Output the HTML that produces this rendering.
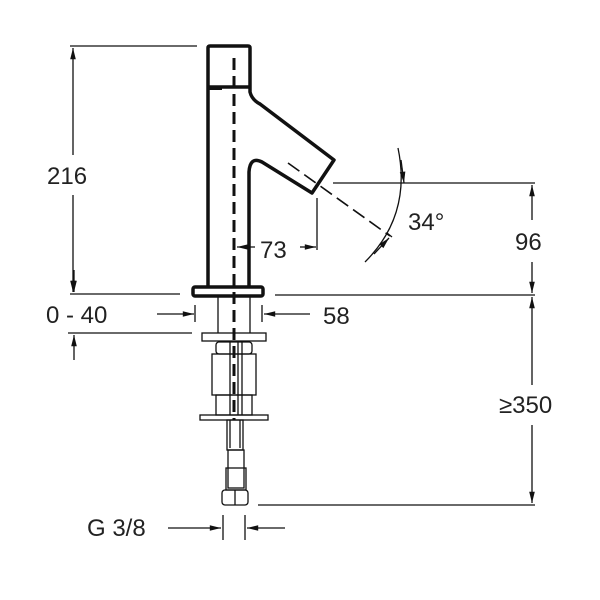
<!DOCTYPE html>
<html><head><style>body{margin:0;background:#fff}svg{display:block}text{font-family:"Liberation Sans",sans-serif;fill:#222;font-size:24px}</style></head>
<body><svg width="600" height="600" viewBox="0 0 600 600" xmlns="http://www.w3.org/2000/svg">
<defs><marker id="a" viewBox="0 0 14 10" refX="14" refY="5" markerWidth="14" markerHeight="8" orient="auto-start-reverse" markerUnits="userSpaceOnUse"><path d="M0,1.5L14,5L0,8.5z" fill="#111"/></marker></defs>
<g stroke="#111" fill="none" stroke-width="1.3">
<line x1="70" y1="46" x2="197" y2="46"/><line x1="70" y1="294" x2="180" y2="294"/>
<line x1="73" y1="48" x2="73" y2="155" marker-start="url(#a)"/><line x1="73" y1="195" x2="73" y2="292" marker-end="url(#a)"/>
<line x1="68" y1="333" x2="192" y2="333"/>
<line x1="74" y1="270" x2="74" y2="292" marker-end="url(#a)"/>
<line x1="74" y1="360" x2="74" y2="335" marker-end="url(#a)"/>
<line x1="157" y1="314" x2="194" y2="314" marker-end="url(#a)"/>
<line x1="310" y1="314" x2="264" y2="314" marker-end="url(#a)"/>
<line x1="195" y1="305" x2="195" y2="322"/><line x1="262" y1="305" x2="262" y2="322"/>
<line x1="218" y1="297" x2="218" y2="333"/><line x1="250" y1="297" x2="250" y2="333"/>
<line x1="333" y1="183" x2="535" y2="183"/><line x1="275" y1="295" x2="535" y2="295"/><line x1="258" y1="505" x2="535" y2="505"/>
<line x1="532" y1="185" x2="532" y2="220" marker-start="url(#a)"/><line x1="532" y1="262" x2="532" y2="293" marker-end="url(#a)"/>
<line x1="532" y1="297" x2="532" y2="385" marker-start="url(#a)"/><line x1="532" y1="425" x2="532" y2="503" marker-end="url(#a)"/>
<line x1="317" y1="198" x2="317" y2="250"/>
<line x1="255" y1="247" x2="237" y2="247" marker-end="url(#a)"/><line x1="300" y1="247" x2="316" y2="247" marker-end="url(#a)"/>
<path d="M398,148 Q412,215 365,262"/>
<path d="M401,160 L404,183" marker-end="url(#a)"/>
<path d="M374,254 L389,238" marker-end="url(#a)"/>
<line x1="387" y1="233" x2="392" y2="237"/>
<g stroke-width="3.5" stroke-linejoin="round">
<path d="M208,287 L208,48 Q208,46 210,46 L248,46 Q250,46 250,48 L250,92 Q252,100 260,104 L334,160 L312,193 L262,162 Q250,156 249,172 L249,287"/>
<line x1="208" y1="87" x2="250" y2="87"/>
<rect x="193" y="287" width="70" height="9" rx="2"/>
</g>
<line x1="208" y1="88" x2="222" y2="88" stroke-width="4"/>
<line x1="234" y1="58" x2="234" y2="420" stroke-width="3" stroke-dasharray="12,6"/>
<line x1="288" y1="163" x2="390" y2="236" stroke-width="1.6" stroke-dasharray="14,6"/>
<rect x="202" y="333" width="64" height="8"/>
<rect x="216" y="342" width="36" height="12" rx="3"/>
<rect x="212" y="354" width="44" height="41"/>
<rect x="216" y="395" width="36" height="20"/>
<rect x="200" y="415" width="68" height="5"/>
<line x1="230" y1="342" x2="230" y2="415"/><line x1="238" y1="342" x2="238" y2="415"/>
<line x1="242" y1="342" x2="242" y2="415"/>
<rect x="227" y="420" width="16" height="30"/>
<line x1="230" y1="420" x2="230" y2="448"/><line x1="240" y1="420" x2="240" y2="448"/>
<rect x="228" y="450" width="16" height="38"/>
<rect x="226" y="468" width="20" height="22"/>
<rect x="222" y="490" width="26" height="15" rx="3"/><line x1="235" y1="490" x2="235" y2="505"/>
<line x1="168" y1="528" x2="221" y2="528" marker-end="url(#a)"/>
<line x1="285" y1="528" x2="247" y2="528" marker-end="url(#a)"/>
<line x1="223" y1="515" x2="223" y2="540"/><line x1="245" y1="515" x2="245" y2="540"/>
</g>
<text x="47" y="184">216</text>
<text x="46" y="323">0 - 40</text>
<text x="323" y="324">58</text>
<text x="260" y="258">73</text>
<text x="408" y="230">34°</text>
<text x="515" y="250">96</text>
<text x="499" y="413">≥350</text>
<text x="87" y="536">G 3/8</text>
</svg></body></html>
